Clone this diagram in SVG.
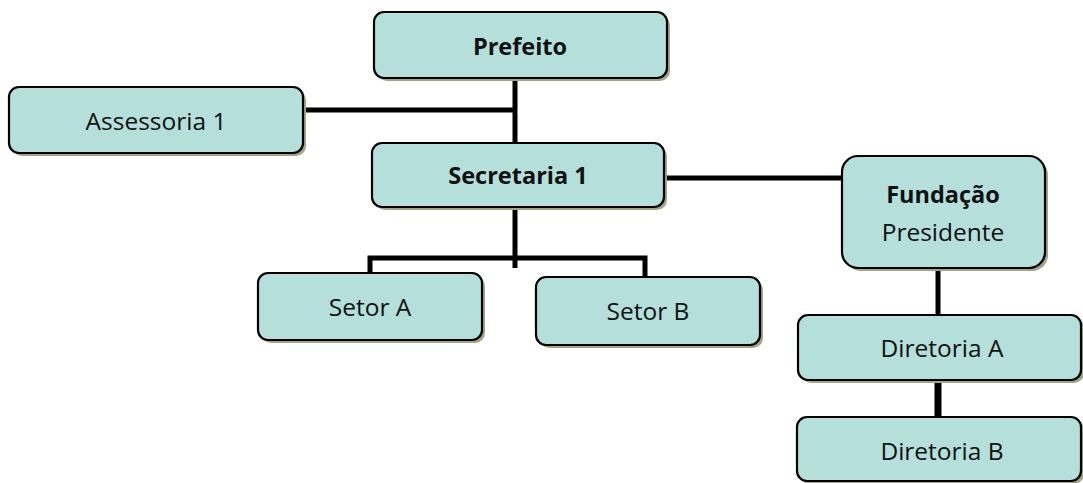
<svg xmlns="http://www.w3.org/2000/svg" width="1083" height="483" viewBox="0 0 1083 483">
<defs>
<style>
.box{fill:#b4dfda;stroke:#000;stroke-width:2.2}
.sh{fill:#a3a487}
.t{font-family:"Open Sans","Liberation Sans",sans-serif;font-size:24.5px;fill:#111;text-anchor:middle}
.b{font-weight:bold;font-size:23.5px}
.c{stroke:#000;stroke-width:5;fill:none}
</style>
</defs>
<rect width="1083" height="483" fill="#fff"/>
<g id="connectors">
<path class="c" d="M515 68 V143"/>
<path class="c" d="M303 110 H515"/>
<path class="c" d="M664 178 H843"/>
<path class="c" d="M515 207 V268"/>
<path class="c" d="M370 273 V258 H645 V277"/>
<path class="c" d="M938 268 V315"/>
<path class="c" d="M938 380 V417" style="stroke-width:7"/>
</g>
<g id="prefeito">
<rect class="sh" x="377" y="15" width="293" height="66" rx="10"/>
<rect class="box" x="374" y="12" width="293" height="66" rx="10"/>
<text class="t b" x="520" y="55">Prefeito</text>
</g>
<g id="assessoria1">
<rect class="sh" x="12" y="90" width="294" height="66" rx="10"/>
<rect class="box" x="9" y="87" width="294" height="66" rx="10"/>
<text class="t" x="156" y="130">Assessoria 1</text>
</g>
<g id="secretaria1">
<rect class="sh" x="375" y="146" width="292" height="64" rx="10"/>
<rect class="box" x="372" y="143" width="292" height="64" rx="10"/>
<text class="t b" x="518" y="184">Secretaria 1</text>
</g>
<g id="fundacao">
<rect class="sh" x="845" y="159" width="203" height="112" rx="16"/>
<rect class="box" x="842" y="156" width="203" height="112" rx="16"/>
<text class="t b" x="943" y="203">Fundação</text>
<text class="t" x="943" y="241">Presidente</text>
</g>
<g id="setorA">
<rect class="sh" x="261" y="276" width="224" height="67" rx="10"/>
<rect class="box" x="258" y="273" width="224" height="67" rx="10"/>
<text class="t" x="370" y="316">Setor A</text>
</g>
<g id="setorB">
<rect class="sh" x="539" y="280" width="224" height="68" rx="10"/>
<rect class="box" x="536" y="277" width="224" height="68" rx="10"/>
<text class="t" x="648" y="320">Setor B</text>
</g>
<g id="diretoriaA">
<rect class="sh" x="801" y="318" width="283" height="65" rx="10"/>
<rect class="box" x="798" y="315" width="283" height="65" rx="10"/>
<text class="t" x="942" y="357">Diretoria A</text>
</g>
<g id="diretoriaB">
<rect class="sh" x="800" y="420" width="284" height="64" rx="10"/>
<rect class="box" x="797" y="417" width="284" height="64" rx="10"/>
<text class="t" x="942" y="460">Diretoria B</text>
</g>
</svg>
